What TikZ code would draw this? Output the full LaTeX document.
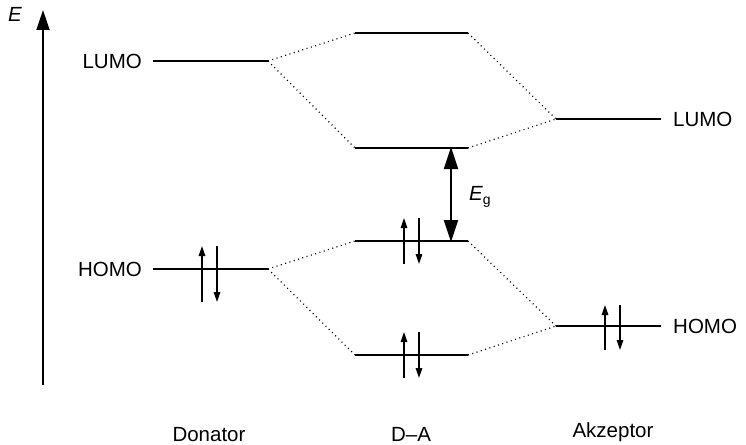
\documentclass[tikz,border=0pt]{standalone}
\usepackage{fontspec}
\setmainfont{Liberation Sans}
\usetikzlibrary{arrows.meta}
\begin{document}
\begin{tikzpicture}[x=1pt,y=-1pt,
  level/.style={line width=1.8pt},
  link/.style={line width=1.2pt, dash pattern=on 1pt off 3.5pt},
  spin/.style={line width=1.4pt,-{Triangle[length=10pt,width=6.5pt]}},
  axisarrow/.style={line width=1.8pt,-{Triangle[length=20pt,width=13pt]}},
  gaparrow/.style={line width=2.2pt,{Triangle[length=22pt,width=14pt]}-{Triangle[length=22pt,width=14pt]}},
  lbl/.style={font=\fontsize{20.5}{24}\selectfont, inner sep=0pt}]
\useasboundingbox (0,0) rectangle (746,444);
% axis
\coordinate (ax0) at (43,385);
\coordinate (ax1) at (43,10);
\draw[axisarrow] (ax0) -- (ax1);
\node[lbl] (E) at (15,14) {\itshape E};
% level endpoints
\coordinate (dLa) at (153,61);  \coordinate (dLb) at (268,61);
\coordinate (dHa) at (153,269); \coordinate (dHb) at (268,269);
\coordinate (mTa) at (355,33);  \coordinate (mTb) at (468,33);
\coordinate (mLa) at (355,148); \coordinate (mLb) at (468,148);
\coordinate (mHa) at (355,241); \coordinate (mHb) at (468,241);
\coordinate (mBa) at (355,355); \coordinate (mBb) at (468,355);
\coordinate (aLa) at (556,119); \coordinate (aLb) at (661,119);
\coordinate (aHa) at (556,326); \coordinate (aHb) at (661,326);
\foreach \a/\b in {dLa/dLb,dHa/dHb,mTa/mTb,mLa/mLb,mHa/mHb,mBa/mBb,aLa/aLb,aHa/aHb}
  \draw[level] (\a) -- (\b);
% dotted correlation lines
\draw[link] (dLb) -- (mTa);
\draw[link] (dLb) -- (mLa);
\draw[link] (mTb) -- (aLa);
\draw[link] (mLb) -- (aLa);
\draw[link] (dHb) -- (mHa);
\draw[link] (dHb) -- (mBa);
\draw[link] (mHb) -- (aHa);
\draw[link] (mBb) -- (aHa);
% spins
\draw[spin] (202,302) -- (202,246);
\draw[spin] (217,246) -- (217,302);
\draw[spin] (404,264) -- (404,218);
\draw[spin] (419,218) -- (419,264);
\draw[spin] (404,378) -- (404,332);
\draw[spin] (419,332) -- (419,378);
\draw[spin] (605,350) -- (605,305);
\draw[spin] (620,305) -- (620,350);
% gap arrow
\coordinate (g0) at (451,147);
\coordinate (g1) at (451,242);
\draw[gaparrow] (g0) -- (g1);
\node[lbl, anchor=west] (Eg) at (469,197) {\itshape E\raisebox{-0.4ex}{\upshape\fontsize{14}{16}\selectfont g}};
% labels
\node[lbl, anchor=base east] (dLUMO) at (142,68.5) {LUMO};
\node[lbl, anchor=base east] (dHOMO) at (142,276.5) {HOMO};
\node[lbl, anchor=base west] (aLUMO) at (673,126.5) {LUMO};
\node[lbl, anchor=base west] (aHOMO) at (673,333.5) {HOMO};
\node[lbl, anchor=base] (don) at (209,441) {Donator};
\node[lbl, anchor=base] (da) at (411,441) {D--A};
\node[lbl, anchor=base] (akz) at (613,437) {Akzeptor};
\end{tikzpicture}
\end{document}
